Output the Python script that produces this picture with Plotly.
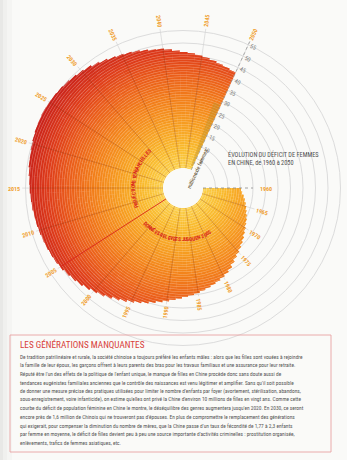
import numpy as np
import plotly.graph_objects as go

# ---------------- data ----------------
years = list(range(1960, 2051))
deficit = [  # millions de femmes manquantes, 1960 -> 2050
    15.2, 15.7, 16.5, 17.1, 17.8, 18.4, 19.0, 19.8, 20.5, 21.0,
    21.8, 22.6, 23.4, 24.2, 25.1, 26.0, 26.9, 28.0, 29.3, 30.3,
    31.0, 31.8, 32.5, 33.1, 33.8, 34.4, 35.0, 35.6, 36.2, 36.9,
    37.7, 38.5, 39.3, 40.2, 41.1, 42.0, 42.9, 43.8, 44.8, 45.8,
    46.6, 47.5, 48.3, 49.0, 49.7, 50.3, 50.8, 51.1, 51.5, 51.7,
    52.0, 52.3, 52.5, 52.8, 53.0, 53.3, 53.6, 53.9, 54.3, 54.5,
    54.8, 55.1, 55.4, 55.6, 55.7, 55.6, 55.4, 55.1, 54.8, 54.4,
    53.9, 53.4, 52.7, 52.0, 51.3, 50.8, 50.3, 49.8, 49.2, 48.7,
    48.3, 47.8, 47.0, 46.4, 46.0, 45.6, 45.0, 44.4, 43.8, 43.3,
    42.8,
]
assert len(deficit) == len(years)
tick_years = list(range(1960, 2051, 5))
radial_ticks = list(range(0, 56, 5))
last_observed_year = 2005

title = "LES GÉNÉRATIONS MANQUANTES"
chart_title = ["ÉVOLUTION DU DÉFICIT DE FEMMES", "EN CHINE, de 1960 à 2050"]
axis_title = "millions de femmes"
label_proj = "PROJECTIONS TENDANCIELLES"
label_obs = "DONNÉES RELEVÉES JUSQU'EN 2005"
body_lines = [
    "De tradition patrilinéaire et rurale, la société chinoise a toujours préféré les enfants mâles : alors que les filles sont vouées à rejoindre",
    "la famille de leur époux, les garçons offrent à leurs parents des bras pour les travaux familiaux et une assurance pour leur retraite.",
    "Réputé être l'un des effets de la politique de l'enfant unique, le manque de filles en Chine procède donc sans doute aussi de",
    "tendances eugénistes familiales anciennes que le contrôle des naissances est venu légitimer et amplifier. Sans qu'il soit possible",
    "de donner une mesure précise des pratiques utilisées pour limiter le nombre d'enfants par foyer (avortement, stérilisation, abandons,",
    "sous-enregistrement, voire infanticide), on estime qu'elles ont privé la Chine d'environ 10 millions de filles en vingt ans. Comme cette",
    "courbe du déficit de population féminine en Chine le montre, le déséquilibre des genres augmentera jusqu'en 2020. En 2030, ce seront",
    "encore près de 1,6 million de Chinois qui ne trouveront pas d'épouses. En plus de compromettre le remplacement des générations",
    "qui exigerait, pour compenser la diminution du nombre de mères, que la Chine passe d'un taux de fécondité de 1,77 à 2,3 enfants",
    "par femme en moyenne, le déficit de filles devient peu à peu une source importante d'activités criminelles : prostitution organisée,",
    "enlèvements, trafics de femmes asiatiques, etc.",
]

# ---------------- geometry / style ----------------
W, H = 347, 460
CX, CY, RPX = 183, 188, 164          # polar centre (px from top-left) and radius
HOLE_PX = 20
UNIT_PX = 2.5
RMAX = (RPX - HOLE_PX) / UNIT_PX
SPAN = 294.5                          # degrees covered by 1960..2050
STEP = SPAN / (years[-1] - years[0])  # degrees per year (tick spacing)
BW = SPAN / len(years)                # bar angular width
HALF = 0.40                           # half thickness of a 1-million stripe
NARROW = "Liberation Sans Narrow, Arial Narrow, Roboto Condensed, Liberation Sans, sans-serif"

stops = [(0, (251, 206, 70)), (8, (249, 186, 44)), (18, (246, 156, 32)),
         (28, (242, 126, 26)), (38, (234, 92, 26)), (46, (222, 60, 26)), (56, (198, 30, 26))]


def grad_rgb(v):
    for (a, ca), (b, cb) in zip(stops[:-1], stops[1:]):
        if v <= b:
            t = max(0.0, (v - a) / (b - a))
            return [ca[k] + t * (cb[k] - ca[k]) for k in range(3)]
    return list(stops[-1][1])


def rgb(c, white=0.0):
    c = [round(x + (255 - x) * white) for x in c]
    return f"rgb({c[0]},{c[1]},{c[2]})"


def year_theta(y):
    return (y - years[0]) * STEP


def to_px(theta, r):
    rp = HOLE_PX + r * UNIT_PX
    a = np.radians(theta)
    return CX + rp * np.cos(a), CY + rp * np.sin(a)


def px2paper(x, y):
    return x / W, 1 - y / H


def norm_angle(a):
    return (a + 180) % 360 - 180


fig = go.Figure()

# ---- underlay: light tint seen between the stripes ----
uth, ubase, urr, ucol = [], [], [], []
for i, v in enumerate(deficit):
    t = (i + 0.5) * BW
    lo = 0.0
    while lo < v:
        hi = min(v, lo + 2.0)
        uth.append(t); ubase.append(lo); urr.append(hi - lo)
        ucol.append(rgb(grad_rgb(lo + 1.0), 0.38))
        lo = hi
fig.add_trace(go.Barpolar(r=urr, theta=uth, base=ubase, width=BW * 1.03,
                          marker=dict(color=ucol, line=dict(width=0)),
                          hoverinfo="skip", showlegend=False))

# ---- striped spiral bars: one thin segment per million ----
th, base, rr, col = [], [], [], []
for i, v in enumerate(deficit):
    t = (i + 0.5) * BW
    j = 0
    while j - HALF < v:
        lo, hi = max(0.0, j - HALF), min(v, j + HALF)
        if hi > lo:
            th.append(t); base.append(lo); rr.append(hi - lo); col.append(rgb(grad_rgb(j)))
        j += 1
fig.add_trace(go.Barpolar(r=rr, theta=th, base=base, width=BW * 1.03,
                          marker=dict(color=col, line=dict(width=0)),
                          hoverinfo="skip", showlegend=False))

val = dict(zip(years, deficit))
t50 = year_theta(years[-1])

# ochre strip along the 2050 axis
fig.add_trace(go.Barpolar(r=[27], theta=[t50 - 2.6], base=[1.5], width=[4.2],
                          marker=dict(color="rgba(190,145,40,0.45)", line=dict(width=0)),
                          hoverinfo="skip", showlegend=False))


def label_r(y):
    if y >= 2015:
        return 59.5
    return min(max(val[y] + 4.5, 25), 59.5)


# ---- spokes ----
si_r, si_t, so_r, so_t = [], [], [], []
for y in tick_years:
    t = year_theta(y)
    v = val[y]
    if y not in (years[0], last_observed_year, years[-1]):
        si_r += [0, v, None]; si_t += [t, t, None]
    if y != years[0]:
        so_r += [v, label_r(y) - 3.2, None]; so_t += [t, t, None]
fig.add_trace(go.Scatterpolar(r=so_r, theta=so_t, mode="lines",
                              line=dict(color="#d4d4d4", width=0.7),
                              hoverinfo="skip", showlegend=False))
fig.add_trace(go.Scatterpolar(r=si_r, theta=si_t, mode="lines",
                              line=dict(color="rgba(130,45,10,0.45)", width=0.6),
                              hoverinfo="skip", showlegend=False))
t05 = year_theta(last_observed_year)
fig.add_trace(go.Scatterpolar(r=[0, val[last_observed_year]], theta=[t05, t05], mode="lines",
                              line=dict(color="#d8261c", width=0.9),
                              hoverinfo="skip", showlegend=False))
fig.add_trace(go.Scatterpolar(r=[0, 20], theta=[0, 0], mode="lines",
                              line=dict(color="#8a8a8a", width=0.8, dash="dot"),
                              hoverinfo="skip", showlegend=False))
fig.add_trace(go.Scatterpolar(r=[0, 56.5], theta=[t50, t50], mode="lines",
                              line=dict(color="#9a9a9a", width=0.8, dash="dot"),
                              hoverinfo="skip", showlegend=False))

fig.update_layout(
    width=W, height=H,
    margin=dict(l=0, r=0, t=0, b=0),
    paper_bgcolor="#fafaf8",
    plot_bgcolor="rgba(0,0,0,0)",
    showlegend=False,
    polar=dict(
        domain=dict(x=[(CX - RPX) / W, (CX + RPX) / W],
                    y=[(H - CY - RPX) / H, (H - CY + RPX) / H]),
        bgcolor="rgba(0,0,0,0)",
        hole=HOLE_PX / RPX,
        bargap=0,
        radialaxis=dict(range=[0, RMAX], tickvals=radial_ticks,
                        showticklabels=False, showline=False, ticks="",
                        showgrid=True, gridcolor="#dcdcdc", gridwidth=0.7),
        angularaxis=dict(direction="clockwise", rotation=0, showgrid=False,
                         showline=False, ticks="", showticklabels=False),
    ),
)

ann = []
# radial tick labels along the 2050 axis, offset on the clockwise side
perp = np.radians(t50 + 90)
for v in radial_ticks:
    x, y = to_px(t50, v)
    x += 5.5 * np.cos(perp); y += 5.5 * np.sin(perp)
    px, py = px2paper(x, y)
    ann.append(dict(x=px, y=py, xref="paper", yref="paper", text=str(v), showarrow=False,
                    textangle=norm_angle(t50 + 90), xanchor="center", yanchor="middle",
                    font=dict(size=6, color="#7a7a7a", family=NARROW)))

# year labels
for y in tick_years:
    t = year_theta(y)
    px, py = px2paper(*to_px(t, label_r(y)))
    a = norm_angle(t)
    ang = a if -90 <= a <= 90 else norm_angle(a - 180)
    ann.append(dict(x=px, y=py, xref="paper", yref="paper", text=str(y), showarrow=False,
                    textangle=ang, xanchor="center", yanchor="middle",
                    font=dict(size=6, color="#f0a030", family=NARROW, weight="bold")))


def arc_text(text, r, theta0, direction, span_deg, size, color):
    wts = {" ": 0.55, "I": 0.45, "'": 0.35, "J": 0.8}
    w = [wts.get(c, 1.0) for c in text]
    tot = sum(w)
    acc = 0.0
    for c, wi in zip(text, w):
        tt = theta0 + direction * span_deg * (acc + wi / 2) / tot
        acc += wi
        if c == " ":
            continue
        px, py = px2paper(*to_px(tt, r))
        ang = norm_angle(tt + 90 if direction > 0 else tt - 90)
        ann.append(dict(x=px, y=py, xref="paper", yref="paper", text=c, showarrow=False,
                        textangle=ang, xanchor="center", yanchor="middle",
                        font=dict(size=size, color=color, family=NARROW, weight="bold")))


arc_text(label_proj, 12.0, year_theta(2008), +1, 72, 5.3, "#d8261c")
arc_text(label_obs, 12.6, year_theta(2002), -1, 80, 5.3, "#d8261c")

# axis title along the 2050 axis
px, py = px2paper(*to_px(t50 - 6.0, 10))
ann.append(dict(x=px, y=py, xref="paper", yref="paper", text=axis_title, showarrow=False,
                textangle=norm_angle(t50), font=dict(size=5.5, color="#5e4a1c", family=NARROW)))

# chart title at right
for k, line in enumerate(chart_title):
    ann.append(dict(x=226 / W, y=1 - (154 + 9 * k) / H, xref="paper", yref="paper",
                    text=line, showarrow=False, xanchor="left", yanchor="middle",
                    font=dict(size=6.3, color="#505050", family=NARROW)))

# scan shadow on the left edge
for x0, x1, op in [(0, 3, 0.07), (3, 7, 0.04), (7, 12, 0.018)]:
    fig.add_shape(type="rect", xref="paper", yref="paper", x0=x0 / W, x1=x1 / W, y0=0, y1=1,
                  line=dict(width=0), fillcolor=f"rgba(0,0,0,{op})", layer="below")

# text box
fig.add_shape(type="rect", xref="paper", yref="paper",
              x0=10 / W, x1=331 / W, y0=1 - 452 / H, y1=1 - 335 / H,
              line=dict(color="#e9a3a3", width=0.9), fillcolor="rgba(0,0,0,0)")
ann.append(dict(x=18 / W, y=1 - 344.5 / H, xref="paper", yref="paper", text=title,
                showarrow=False, xanchor="left", yanchor="middle",
                font=dict(size=9.2, color="#d8403a", family=NARROW)))
for k, line in enumerate(body_lines):
    ann.append(dict(x=18 / W, y=1 - (356.8 + 8.6 * k) / H, xref="paper", yref="paper",
                    text=line, showarrow=False, xanchor="left", yanchor="middle",
                    font=dict(size=5.4, color="#555555", family=NARROW)))

fig.update_layout(annotations=ann)
fig.write_html("out.html")
